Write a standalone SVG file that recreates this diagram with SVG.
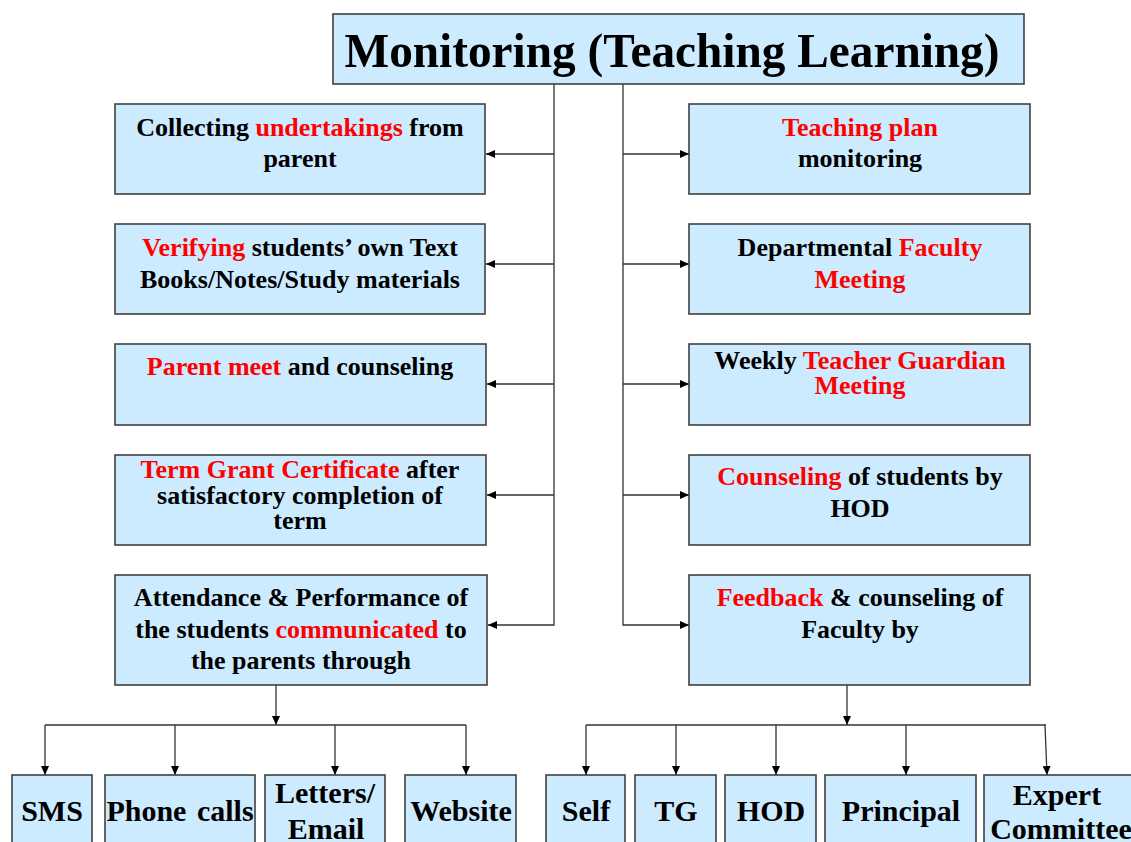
<svg xmlns="http://www.w3.org/2000/svg" width="1131" height="842" viewBox="0 0 1131 842">
<defs>
<style>
.box{fill:#CCEBFF;stroke:#404040;stroke-width:1.6}
.t{font-family:"Liberation Serif","Times New Roman",serif;font-weight:bold;font-size:26px;fill:#000;text-anchor:middle}
.b{font-size:30px}
.r{fill:#FF0000}
.c{fill:none;stroke:#333;stroke-width:1.3}
</style>
<marker id="ah" markerUnits="userSpaceOnUse" markerWidth="10" markerHeight="8" refX="9" refY="4" orient="auto">
<path d="M0,0 L9,4 L0,8 Z" fill="#000"/>
</marker>
</defs>
<rect width="1131" height="842" fill="#fff"/>

<g id="connectors">
<path class="c" d="M554,84 V625 H488" marker-end="url(#ah)"/>
<path class="c" d="M554,154 H486" marker-end="url(#ah)"/>
<path class="c" d="M554,264 H486" marker-end="url(#ah)"/>
<path class="c" d="M554,384 H487" marker-end="url(#ah)"/>
<path class="c" d="M554,495 H487" marker-end="url(#ah)"/>
<path class="c" d="M623,84 V625 H689" marker-end="url(#ah)"/>
<path class="c" d="M623,154 H689" marker-end="url(#ah)"/>
<path class="c" d="M623,264 H689" marker-end="url(#ah)"/>
<path class="c" d="M623,384 H689" marker-end="url(#ah)"/>
<path class="c" d="M623,495 H689" marker-end="url(#ah)"/>
<path class="c" d="M276,685 V725" marker-end="url(#ah)"/>
<path class="c" d="M45,725 H466"/>
<path class="c" d="M45,725 V775" marker-end="url(#ah)"/>
<path class="c" d="M175,725 V775" marker-end="url(#ah)"/>
<path class="c" d="M335,725 V775" marker-end="url(#ah)"/>
<path class="c" d="M466,725 V775" marker-end="url(#ah)"/>
<path class="c" d="M847,685 V725" marker-end="url(#ah)"/>
<path class="c" d="M586,725 H1046"/>
<path class="c" d="M586,725 V775" marker-end="url(#ah)"/>
<path class="c" d="M676,725 V775" marker-end="url(#ah)"/>
<path class="c" d="M776,725 V775" marker-end="url(#ah)"/>
<path class="c" d="M906,725 V775" marker-end="url(#ah)"/>
<path class="c" d="M1045,725 L1047,775" marker-end="url(#ah)"/>
</g>

<g id="title">
<rect class="box" x="333" y="14" width="691" height="70"/>
<text class="t" x="672" y="67" style="font-size:49px" textLength="655" lengthAdjust="spacingAndGlyphs">Monitoring (Teaching Learning)</text>
</g>

<g id="l1">
<rect class="box" x="115" y="104" width="370" height="90"/>
<text class="t" x="300" y="136">Collecting <tspan class="r">undertakings</tspan> from</text>
<text class="t" x="300" y="167">parent</text>
</g>
<g id="l2">
<rect class="box" x="115" y="224" width="370" height="90"/>
<text class="t" x="300" y="256"><tspan class="r">Verifying</tspan> students’ own Text</text>
<text class="t" x="300" y="288">Books/Notes/Study materials</text>
</g>
<g id="l3">
<rect class="box" x="115" y="344" width="371" height="81"/>
<text class="t" x="300" y="375"><tspan class="r">Parent meet</tspan> and counseling</text>
</g>
<g id="l4">
<rect class="box" x="115" y="455" width="371" height="90"/>
<text class="t" x="300" y="478"><tspan class="r">Term Grant Certificate</tspan> after</text>
<text class="t" x="300" y="504">satisfactory completion of</text>
<text class="t" x="300" y="529">term</text>
</g>
<g id="l5">
<rect class="box" x="115" y="575" width="372" height="110"/>
<text class="t" x="301" y="606">Attendance &amp; Performance of</text>
<text class="t" x="301" y="638">the students <tspan class="r">communicated</tspan> to</text>
<text class="t" x="301" y="669">the parents through</text>
</g>

<g id="r1">
<rect class="box" x="689" y="104" width="341" height="90"/>
<text class="t" x="860" y="136"><tspan class="r">Teaching plan</tspan></text>
<text class="t" x="860" y="167">monitoring</text>
</g>
<g id="r2">
<rect class="box" x="689" y="224" width="341" height="90"/>
<text class="t" x="860" y="256">Departmental <tspan class="r">Faculty</tspan></text>
<text class="t" x="860" y="288"><tspan class="r">Meeting</tspan></text>
</g>
<g id="r3">
<rect class="box" x="689" y="344" width="341" height="81"/>
<text class="t" x="860" y="369">Weekly <tspan class="r">Teacher Guardian</tspan></text>
<text class="t" x="860" y="394"><tspan class="r">Meeting</tspan></text>
</g>
<g id="r4">
<rect class="box" x="689" y="455" width="341" height="90"/>
<text class="t" x="860" y="485"><tspan class="r">Counseling</tspan> of students by</text>
<text class="t" x="860" y="517">HOD</text>
</g>
<g id="r5">
<rect class="box" x="689" y="575" width="341" height="110"/>
<text class="t" x="860" y="606"><tspan class="r">Feedback</tspan> &amp; counseling of</text>
<text class="t" x="860" y="638">Faculty by</text>
</g>

<g id="sms">
<rect class="box" x="12" y="775" width="80" height="80"/>
<text class="t b" x="52" y="821">SMS</text>
</g>
<g id="phone">
<rect class="box" x="105" y="775" width="150" height="80"/>
<text class="t b" x="180" y="821" word-spacing="3">Phone calls</text>
</g>
<g id="letters">
<rect class="box" x="265" y="775" width="120" height="80"/>
<text class="t b" x="325" y="803">Letters/</text>
<text class="t b" x="326" y="839">Email</text>
</g>
<g id="website">
<rect class="box" x="405" y="775" width="111" height="80"/>
<text class="t b" x="461" y="821">Website</text>
</g>
<g id="self">
<rect class="box" x="546" y="775" width="79" height="80"/>
<text class="t b" x="586" y="821">Self</text>
</g>
<g id="tg">
<rect class="box" x="635" y="775" width="81" height="80"/>
<text class="t b" x="676" y="821">TG</text>
</g>
<g id="hod">
<rect class="box" x="725" y="775" width="91" height="80"/>
<text class="t b" x="771" y="821">HOD</text>
</g>
<g id="principal">
<rect class="box" x="825" y="775" width="151" height="80"/>
<text class="t b" x="901" y="821">Principal</text>
</g>
<g id="expert">
<rect class="box" x="984" y="775" width="160" height="80"/>
<text class="t b" x="1057" y="805">Expert</text>
<text class="t b" x="1061" y="839">Committee</text>
</g>
</svg>
